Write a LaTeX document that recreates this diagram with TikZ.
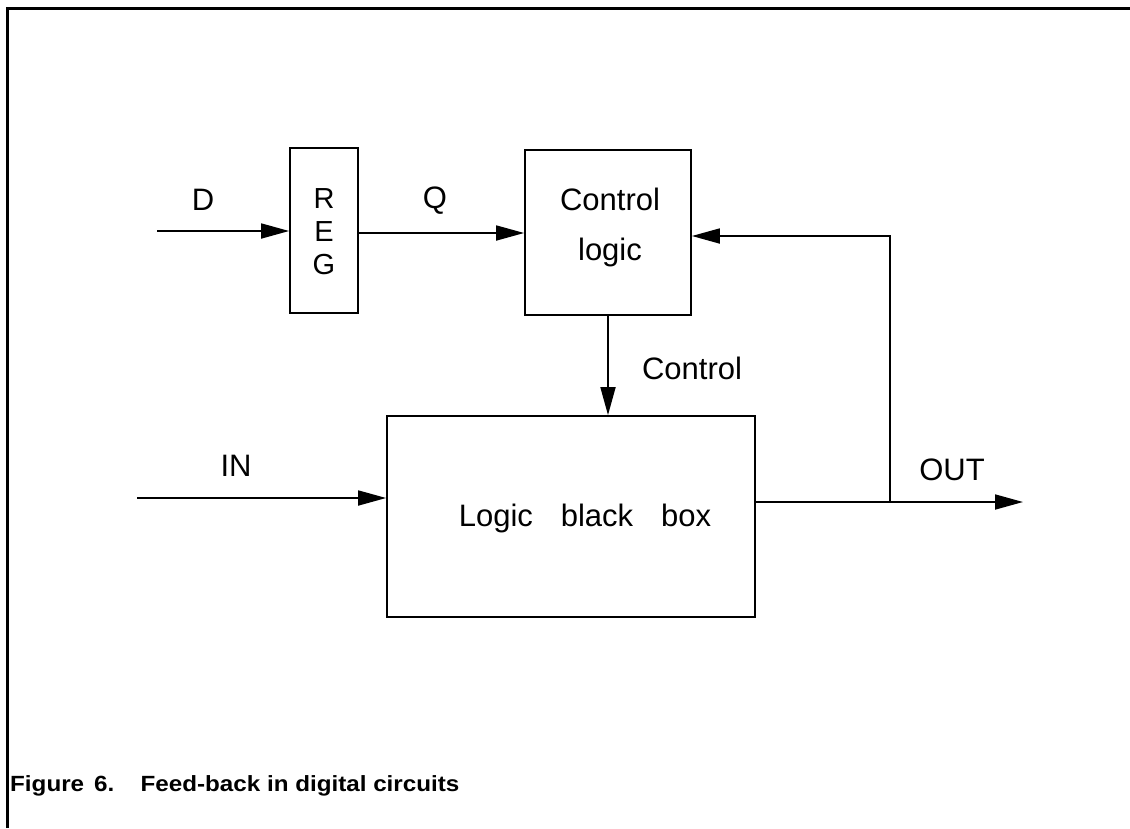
\documentclass[tikz,border=0pt]{standalone}
\usepackage{fontspec}
\setmainfont{Liberation Sans}
\newfontfamily\capfont[FakeStretch=1.1]{Liberation Sans}
\usetikzlibrary{arrows.meta}
\begin{document}
\begin{tikzpicture}[x=1pt,y=-1pt,
  blk/.style={draw,line width=1.8pt,inner sep=0pt},
  lbl/.style={inner sep=0pt,font=\fontsize{31}{50}\selectfont},
  conn/.style={line width=1.8pt,-{Triangle[length=28pt,width=15pt]}},
  wire/.style={line width=1.8pt}]
\useasboundingbox (0,0) rectangle (1130,828);
% frame
\draw[line width=3pt] (7,828) -- (7,8) -- (1130,8);
% blocks
\node[blk,minimum width=68pt,minimum height=165pt] (reg) at (324,230.5) {};
\node[lbl,align=center,font=\fontsize{29}{33}\selectfont] (regt) at (324,232) {R\\E\\G};
\node[blk,minimum width=166pt,minimum height=165pt] (ctrl) at (608,232.5) {};
\node[lbl,align=center] (ctrlt) at (610,227) {Control\\logic};
\node[blk,minimum width=368pt,minimum height=201pt] (logic) at (571,516.5) {};
\node[lbl] (logict) at (585,518) {Logic\hspace{0.9em}black\hspace{0.9em}box};
% coordinates
\coordinate (din) at (157,231);
\coordinate (qy) at (400,233);
\coordinate (iin) at (137,498);
\coordinate (split) at (890,502);
\coordinate (fbtop) at (890,236);
\coordinate (oend) at (1023,502);
% connectors
\draw[conn] (din) -- (reg.west |- din);
\draw[conn] (reg.east |- qy) -- (ctrl.west |- qy);
\draw[conn] (ctrl.south) -- (logic.north -| ctrl.south);
\draw[conn] (iin) -- (logic.west |- iin);
\draw[wire] (logic.east |- split) -- (split);
\draw[conn] (split) -- (fbtop) -- (ctrl.east |- fbtop);
\draw[conn] (split) -- (oend);
% labels
\node[lbl] (dl) at (203,200) {D};
\node[lbl] (ql) at (435,201) {Q};
\node[lbl] (cl) at (692,368) {Control};
\node[lbl] (il) at (236,466) {IN};
\node[lbl] (ol) at (952,470) {OUT};
\node[inner sep=0pt,anchor=base west,font=\capfont\fontsize{22}{26}\selectfont\bfseries] (cap) at (10,791) {Figure\hspace{0.45em}6.\hspace{1.2em}Feed-back in digital circuits};
\end{tikzpicture}
\end{document}
